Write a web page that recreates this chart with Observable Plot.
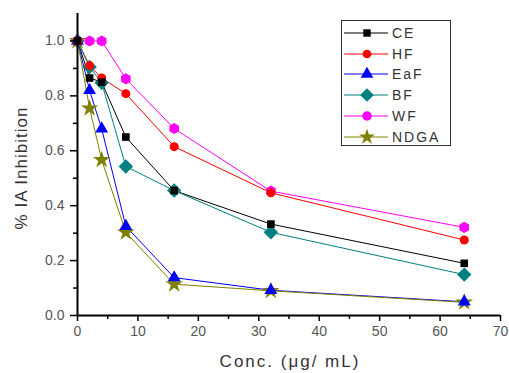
<!DOCTYPE html>
<html>
<head>
<meta charset="utf-8">
<script src="https://cdn.jsdelivr.net/npm/d3@7"></script>
<script src="https://cdn.jsdelivr.net/npm/@observablehq/plot@0.6"></script>
<style>
  html, body { margin: 0; padding: 0; background: #fff; }
  #wrap { position: relative; width: 509px; height: 373px; font-family: "Liberation Sans", Arial, sans-serif; }
  #legend { position: absolute; left: 341px; top: 20px; width: 110px; height: 126px; border: 1.5px solid #333; background: #fff; box-sizing: border-box; }
  #legend .row { position: absolute; left: 0; height: 20px; display: flex; align-items: center; }
  #legend .lab { font-size: 14px; letter-spacing: 2px; color: #333; margin-left: 4px; }
</style>
</head>
<body>
<div id="wrap"><div id="chart"></div><div id="legend"></div></div>
<script>
const conc = [0, 2, 4, 8, 16, 32, 64];
const seriesNames = ["CE", "HF", "EaF", "BF", "WF", "NDGA"];
const CE   = [1.0, 0.865, 0.85, 0.65, 0.455, 0.333, 0.19];
const HF   = [1.0, 0.91, 0.865, 0.808, 0.615, 0.447, 0.275];
const EaF  = [1.0, 0.82, 0.68, 0.325, 0.138, 0.092, 0.05];
const BF   = [1.0, 0.905, 0.848, 0.543, 0.455, 0.303, 0.149];
const WF   = [1.0, 1.0, 1.0, 0.862, 0.681, 0.453, 0.321];
const NDGA = [1.0, 0.755, 0.567, 0.303, 0.114, 0.09, 0.048];
const seriesValues = [CE, HF, EaF, BF, WF, NDGA];
const colors = ["#000000", "#ff0000", "#0000ff", "#008080", "#ff00ff", "#808000"];
const symbols = ["square", "circle", "triangle", "diamond2", "hexagon", "star"];
const symbolSizes = [4.3, 4.5, 4.8, 6.5, 4.8, 5.5];
const xMajor = [0, 10, 20, 30, 40, 50, 60, 70];
const xMinor = [5, 15, 25, 35, 45, 55, 65];
const yMajor = [0, 0.2, 0.4, 0.6, 0.8, 1.0];
const yMinor = [0.1, 0.3, 0.5, 0.7, 0.9];
const xLabel = "Conc. (\u03bcg/ mL)";
const yLabel = "% IA Inhibition";

const data = [];
seriesNames.forEach((s, i) => conc.forEach((c, j) => data.push({series: s, conc: c, value: seriesValues[i][j], size: symbolSizes[i]})));

const tickFont = {fontSize: 14, fill: "#555", letterSpacing: "1px"};

const chart = Plot.plot({
  width: 509,
  height: 373,
  marginLeft: 77,
  marginRight: 9,
  marginTop: 13,
  marginBottom: 58,
  style: {fontFamily: "Liberation Sans, Arial, sans-serif", background: "#fff", overflow: "visible"},
  x: {domain: [0, 70], axis: null},
  y: {domain: [0, 1.1], axis: null},
  r: {type: "identity"},
  color: {domain: seriesNames, range: colors},
  symbol: {domain: seriesNames, range: symbols},
  marks: [
    Plot.line(data, {x: "conc", y: "value", z: "series", stroke: "series", strokeWidth: 1}),
    Plot.dot(data, {x: "conc", y: "value", fill: "series", symbol: "series", r: "size", stroke: "none"}),
    Plot.axisX(xMajor, {tickSize: 6, tickPadding: 5, strokeWidth: 1.5, stroke: "#000", tickFormat: d3.format("d"), ...tickFont, label: null}),
    Plot.axisX(xMinor, {tickSize: 4, strokeWidth: 1.5, stroke: "#000", text: null, label: null}),
    Plot.axisY(yMajor, {tickSize: 7, tickPadding: 6, strokeWidth: 1.5, stroke: "#000", tickFormat: d3.format(".1f"), ...tickFont, label: null}),
    Plot.axisY(yMinor, {tickSize: 4, strokeWidth: 1.5, stroke: "#000", text: null, label: null}),
    Plot.ruleY([0], {stroke: "#000", strokeWidth: 2}),
    Plot.ruleX([0], {stroke: "#000", strokeWidth: 2}),
  ]
});
document.getElementById("chart").appendChild(chart);

const svg = d3.select(chart);
svg.append("text").attr("x", 290).attr("y", 367).attr("text-anchor", "middle")
  .attr("font-size", 17).attr("letter-spacing", "2px").attr("fill", "#333").text(xLabel);
svg.append("text").attr("transform", "translate(27,168) rotate(-90)").attr("text-anchor", "middle")
  .attr("font-size", 17).attr("letter-spacing", "1px").attr("fill", "#333").text(yLabel);

const legend = d3.select("#legend");
const symMap = {square: d3.symbolSquare, circle: d3.symbolCircle, triangle: d3.symbolTriangle, diamond2: d3.symbolDiamond2, hexagon: d3.symbolCircle, star: d3.symbolStar};
const legSizes = [55, 60, 70, 120, 70, 80];
seriesNames.forEach((s, i) => {
  const row = legend.append("div").attr("class", "row").style("top", (2 + i * 20.7) + "px");
  const sv = row.append("svg").attr("width", 46).attr("height", 20);
  sv.append("line").attr("x1", 2).attr("x2", 46).attr("y1", 10).attr("y2", 10).attr("stroke", colors[i]).attr("stroke-width", 1);
  sv.append("path").attr("transform", "translate(25,10)").attr("d", d3.symbol(symMap[symbols[i]], legSizes[i])()).attr("fill", colors[i]);
  row.append("span").attr("class", "lab").text(s);
});
</script>
</body>
</html>
